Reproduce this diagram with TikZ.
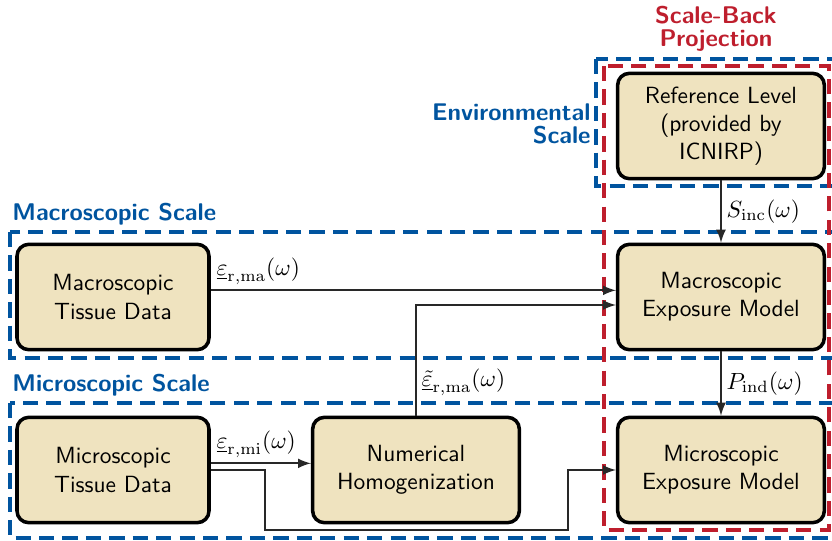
\documentclass[tikz,border=0pt]{standalone}
\usepackage{amsmath}
\usetikzlibrary{positioning}
\definecolor{scaleblue}{RGB}{0,84,159}
\definecolor{backred}{RGB}{190,30,45}
\definecolor{boxfill}{RGB}{239,227,191}
\definecolor{wire}{RGB}{40,40,40}
\tikzset{
  block/.style={draw=black, line width=1.5pt, fill=boxfill, rounded corners=5pt,
    minimum width=3.1cm, minimum height=1.58cm, align=center, font=\sffamily},
  wirearrow/.style={draw=wire, line width=0.9pt, ->, >=latex},
  frameblue/.style={draw=scaleblue, line width=1.4pt, dash pattern=on 6.5pt off 3.5pt},
  framered/.style={draw=backred, line width=1.4pt, dash pattern=on 6.5pt off 3.5pt},
  scalelabel/.style={font=\sffamily\bfseries\fontsize{10.3}{10}\selectfont, text=scaleblue, inner sep=0pt}
}

\begin{document}
\begin{tikzpicture}[x=0.015cm, y=-0.015cm]
    \useasboundingbox (0,0) rectangle (832,540);
    % dashed scale frames
    \path[frameblue] (596,59) rectangle (838,186);
    \path[frameblue] (10,232) rectangle (838,358);
    \path[frameblue] (10,403) rectangle (838,538);
    \path[framered] (604,66) rectangle (829,530);
    % frame labels
    \node[scalelabel, text=backred, align=center] (backlbl) at (716,29) {Scale-Back\\Projection};
    \node[scalelabel, align=right, anchor=east] (envlbl) at (591,124) {Environmental\\Scale};
    \node[scalelabel, anchor=west] (malbl) at (12,214) {Macroscopic Scale};
    \node[scalelabel, anchor=west] (milbl) at (12,385) {Microscopic Scale};
    % blocks
    \node[block] (refLvl) at (721,126) {Reference Level\\(provided by\\ICNIRP)};
    \node[block] (maExp) at (721,297) {Macroscopic\\Exposure Model};
    \node[block] (miExp) at (721,470) {Microscopic\\Exposure Model};
    \node[block, minimum width=2.88cm] (maTis) at (113,297) {Macroscopic\\Tissue Data};
    \node[block, minimum width=2.88cm] (miTis) at (113,470) {Microscopic\\Tissue Data};
    \node[block] (homog) at (416,470) {Numerical\\Homogenization};
    % connections
    \draw[wirearrow] ([yshift=0.1cm]maTis.east) -- node[pos=0, above right, inner sep=2pt] {$\underline{\varepsilon}_{\mathrm{r,ma}}(\omega)$} ([yshift=0.1cm]maTis.east -| maExp.west);
    \draw[wirearrow] (homog.north) -- node[pos=0.3, right, inner sep=2pt] {$\underline{\tilde{\varepsilon}}_{\mathrm{r,ma}}(\omega)$} (homog.north |- 0,305) -- (maExp.west |- 0,305);
    \draw[wirearrow] ([yshift=0.1cm]miTis.east) -- node[pos=0, above right, inner sep=2pt] {$\underline{\varepsilon}_{\mathrm{r,mi}}(\omega)$} ([yshift=0.1cm]miTis.east -| homog.west);
    \draw[wirearrow] (miTis.east) -- (265,470) -- (265,530) -- (568,530) -- (568,470) -- (miExp.west);
    \draw[wirearrow] (refLvl.south) -- node[right, inner sep=2pt] {$S_{\mathrm{inc}}(\omega)$} (maExp.north);
    \draw[wirearrow] (maExp.south) -- node[right, inner sep=2pt] {$P_{\mathrm{ind}}(\omega)$} (miExp.north);
\end{tikzpicture}
\end{document}
